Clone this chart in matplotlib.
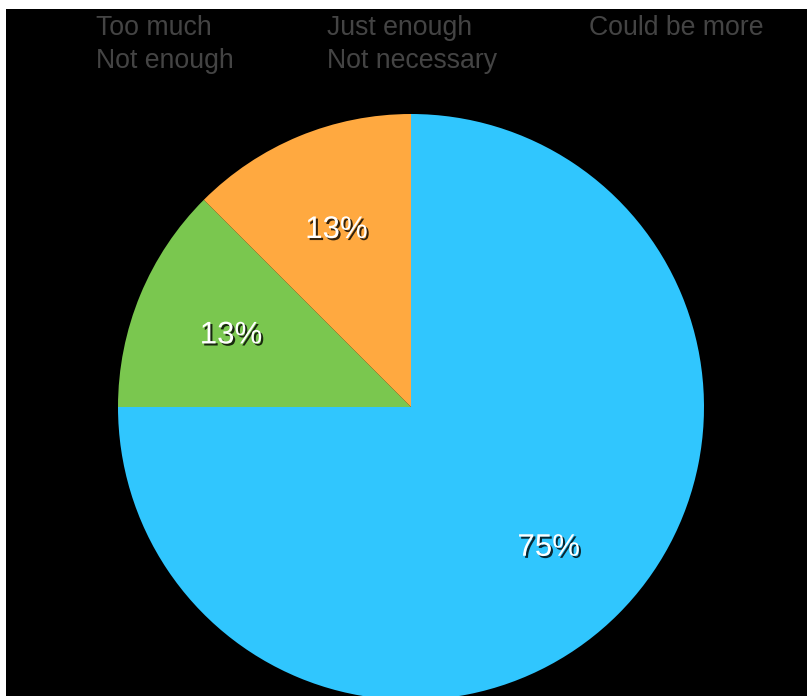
import matplotlib
matplotlib.use("Agg")
import matplotlib.pyplot as plt
import matplotlib.patheffects as pe
import matplotlib.transforms as mtransforms
from matplotlib.patches import Rectangle

plt.rcParams["font.family"] = ["Liberation Sans", "DejaVu Sans"]

categories = ["Too much", "Just enough", "Could be more", "Not enough", "Not necessary"]
responses = [0, 6, 1, 1, 0]
colors = ["#9B59B6", "#30C6FE", "#7AC74F", "#FFA940", "#E74C3C"]

W, H = 807, 696
fig = plt.figure(figsize=(W / 100, H / 100), dpi=100)
fig.patch.set_facecolor("white")
fig.add_artist(Rectangle((6 / W, 0), 1 - 6 / W, 1 - 9 / H, transform=fig.transFigure,
                         facecolor="black", edgecolor="none", zorder=0))

# pie: centre (411, 407) px from top-left, radius 293 px
cx, cy, r = 411, H - 407, 293
ax = fig.add_axes([(cx - r) / W, (cy - r) / H, 2 * r / W, 2 * r / H])
ax.set_axis_off()


def pct_label(p):
    return f"{int(p + 0.5)}%" if p > 0 else ""


wedges, _, autotexts = ax.pie(
    responses,
    colors=colors,
    startangle=90,
    counterclock=False,
    radius=1.0,
    autopct=pct_label,
    pctdistance=0.665,
    wedgeprops=dict(linewidth=0),
    textprops=dict(color="white", fontsize=22.5),
)
ax.set_xlim(-1, 1)
ax.set_ylim(-1, 1)
shift = mtransforms.ScaledTranslation(0, -3 / 100, fig.dpi_scale_trans)
for t in autotexts:
    t.set_transform(t.get_transform() + shift)
    t.set_path_effects([
        pe.withSimplePatchShadow(offset=(1.5, -1.5), shadow_rgbFace="black", alpha=0.8),
    ])

# legend laid out column-major to match the row-wise reading order
order = [0, 3, 1, 4, 2]
leg = fig.legend(
    [wedges[i] for i in order],
    [categories[i] for i in order],
    ncol=3,
    loc="upper left",
    bbox_to_anchor=(96 / W, 1 - 15 / H),
    frameon=False,
    handlelength=0,
    handletextpad=0,
    columnspacing=3.48,
    labelspacing=0.27,
    borderpad=0,
    borderaxespad=0,
    fontsize=19.2,
    labelcolor="#444444",
)
for h in leg.legend_handles:
    h.set_visible(False)

fig.savefig("out.png", dpi=100, facecolor=fig.get_facecolor())
